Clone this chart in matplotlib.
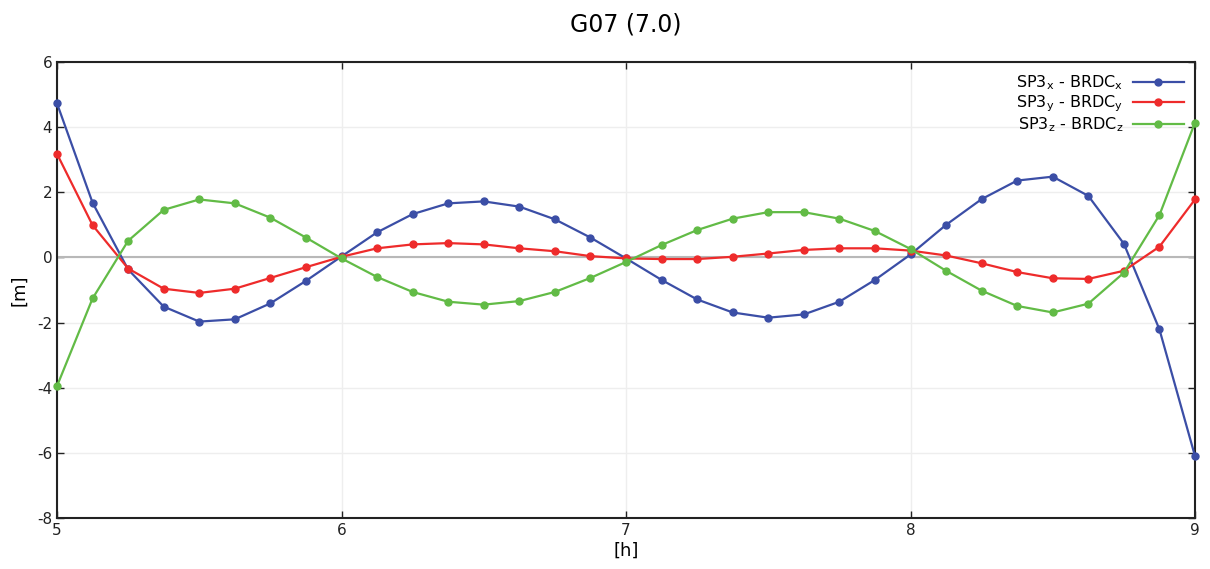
import numpy as np
import matplotlib
matplotlib.use("Agg")
import matplotlib.pyplot as plt

plt.rcParams["axes.unicode_minus"] = False

# time in hours, 7.5 min spacing
hours = [5 + i * 0.125 for i in range(33)]

diff_x = [4.73, 1.68, -0.37, -1.51, -1.97, -1.90, -1.41, -0.72, 0.03,
          0.77, 1.33, 1.66, 1.72, 1.56, 1.17, 0.61, -0.03,
          -0.69, -1.29, -1.69, -1.85, -1.75, -1.36, -0.69, 0.09,
          1.00, 1.79, 2.36, 2.48, 1.89, 0.42, -2.21, -6.10]
diff_y = [3.18, 0.99, -0.34, -0.96, -1.09, -0.96, -0.63, -0.30, 0.02,
          0.28, 0.40, 0.44, 0.40, 0.28, 0.19, 0.04, -0.03,
          -0.05, -0.05, 0.02, 0.12, 0.23, 0.28, 0.28, 0.21,
          0.06, -0.18, -0.45, -0.64, -0.66, -0.41, 0.33, 1.78]
diff_z = [-3.95, -1.26, 0.51, 1.46, 1.78, 1.66, 1.22, 0.61, -0.03,
          -0.60, -1.06, -1.36, -1.45, -1.34, -1.06, -0.63, -0.14,
          0.38, 0.84, 1.19, 1.39, 1.39, 1.19, 0.81, 0.26,
          -0.41, -1.02, -1.49, -1.69, -1.42, -0.47, 1.30, 4.14]

labels = [r"SP3$_{\mathregular{x}}$ - BRDC$_{\mathregular{x}}$",
          r"SP3$_{\mathregular{y}}$ - BRDC$_{\mathregular{y}}$",
          r"SP3$_{\mathregular{z}}$ - BRDC$_{\mathregular{z}}$"]
colors = ["#3b4ea6", "#ee2b2b", "#62bb46"]

fig = plt.figure(figsize=(12.1, 5.69), dpi=100)
ax = fig.add_axes([57 / 1210, 1 - 518 / 569, (1195 - 57) / 1210, (518 - 62) / 569])

ax.axhline(0, color="#b8b8b8", lw=1.5, zorder=2)
for series, lab, col in zip([diff_x, diff_y, diff_z], labels, colors):
    ax.plot(hours, series, color=col, lw=1.6, marker="o", ms=5,
            label=lab, zorder=3, clip_on=False)

ax.set_xlim(5, 9)
ax.set_ylim(-8, 6)
ax.set_xticks([5, 6, 7, 8, 9])
ax.set_yticks(range(-8, 7, 2))
ax.grid(True, color="#eeeeee", lw=1.0, zorder=0)
ax.tick_params(direction="in", length=5, width=1, top=True, right=True,
               labelsize=11, colors="#222222")
for sp in ax.spines.values():
    sp.set_linewidth(1.5)
    sp.set_color("#222222")

ax.set_title("G07 (7.0)", fontsize=17, pad=22)
ax.set_ylabel("[m]", fontsize=13, labelpad=6)
ax.set_xlabel("[h]", fontsize=13, labelpad=3)

ax.legend(loc="upper right", frameon=False, markerfirst=False, fontsize=11.5,
          handlelength=3.2, borderaxespad=0.3, labelspacing=0.1,
          handletextpad=0.6)

fig.savefig("out.png", dpi=100)
